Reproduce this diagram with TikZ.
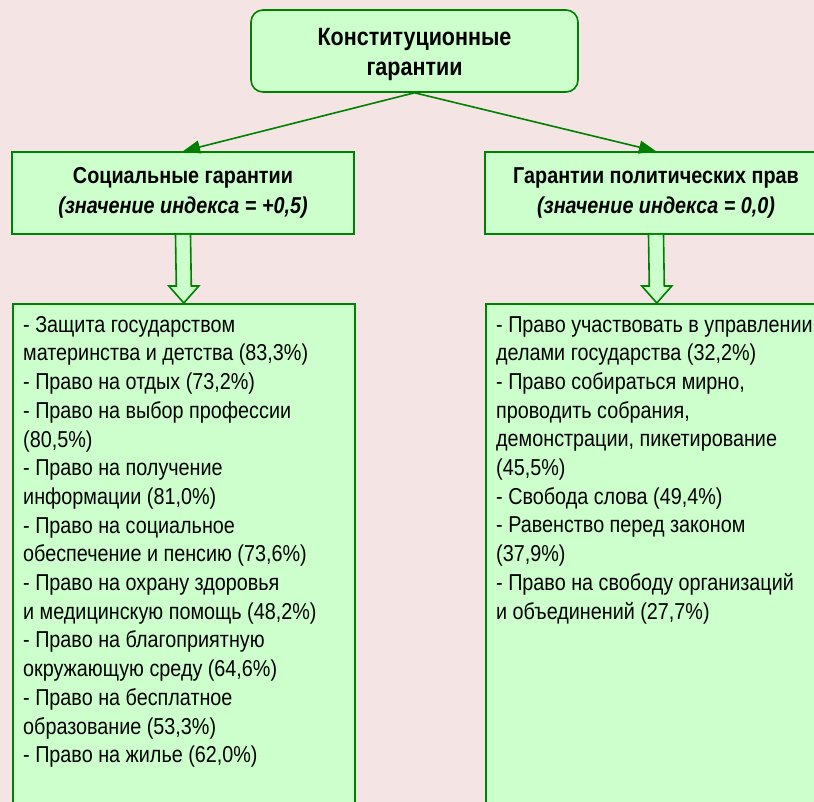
\documentclass[tikz,border=0pt]{standalone}
\usepackage{fontspec}
\setmainfont[FakeStretch=0.86]{Liberation Sans}
\usetikzlibrary{calc,arrows.meta}
\definecolor{bgpink}{HTML}{F4E4E4}
\definecolor{boxgreen}{HTML}{CCFFCC}
\definecolor{linegreen}{HTML}{008000}

\begin{document}
\begin{tikzpicture}[x=1pt,y=-1pt,
		box/.style={draw=linegreen, fill=boxgreen, line width=1.6pt, inner sep=0pt},
		headtext/.style={align=center, font=\fontsize{23}{30}\selectfont\bfseries},
		listtext/.style={align=left, inner sep=0pt, font=\fontsize{23}{28.7}\selectfont},
		link/.style={draw=linegreen, line width=1.6pt, -{Triangle[length=17pt,width=13pt]}},
		hollow/.style={draw=linegreen, fill=boxgreen, line width=1.6pt, line join=miter}]
		\useasboundingbox (0,0) rectangle (814,802);
		\clip (0,0) rectangle (814,802);
		\fill [bgpink] (0,0) rectangle (814,802);
		% top
		\node [box, headtext, font=\fontsize{25}{30}\selectfont\bfseries, rounded corners=12pt, minimum width=327pt, minimum height=82pt] (konst) at (414.5,51) {\rule{0pt}{25pt}Конституционные\\гарантии};
		% two headings
		\node [box, headtext, minimum width=342pt, minimum height=82pt] (soc) at (183,193) {Социальные гарантии\\\textit{(значение индекса = +0,5)}};
		\node [box, headtext, minimum width=342pt, minimum height=82pt] (pol) at (656,193) {Гарантии политических прав\\\textit{(значение индекса = 0,0)}};
		% lists
		\node [box, anchor=north west, minimum width=342pt, minimum height=530pt] (socl) at (12,303) {};
		\node [box, anchor=north west, minimum width=342pt, minimum height=530pt] (poll) at (485,303) {};
		\node [listtext, anchor=north west] (socltxt) at ($(socl.north west)+(11,13)$) {- Защита государством\\материнства и детства (83,3\%)\\- Право на отдых (73,2\%)\\- Право на выбор профессии\\(80,5\%)\\- Право на получение\\информации (81,0\%)\\- Право на социальное\\обеспечение и пенсию (73,6\%)\\- Право на охрану здоровья\\и медицинскую помощь (48,2\%)\\- Право на благоприятную\\окружающую среду (64,6\%)\\- Право на бесплатное\\образование (53,3\%)\\- Право на жилье (62,0\%)};
		\node [listtext, anchor=north west] (polltxt) at ($(poll.north west)+(11,13)$) {- Право участвовать в управлении\\делами государства (32,2\%)\\- Право собираться мирно,\\проводить собрания,\\демонстрации, пикетирование\\(45,5\%)\\- Свобода слова (49,4\%)\\- Равенство перед законом\\(37,9\%)\\- Право на свободу организаций\\и объединений (27,7\%)};
		% arrows
		\draw [link] (konst.south) -- (soc.north);
		\draw [link] (konst.south) -- (pol.north);
		\draw [hollow] ($(soc.south)+(-7.5,0)$) -- ($(socl.north)+(-7.5,-17)$) -- ($(socl.north)+(-15,-17)$) -- (socl.north) -- ($(socl.north)+(15,-17)$) -- ($(socl.north)+(7.5,-17)$) -- ($(soc.south)+(7.5,0)$);
		\draw [hollow] ($(pol.south)+(-7.5,0)$) -- ($(poll.north)+(-7.5,-17)$) -- ($(poll.north)+(-15,-17)$) -- (poll.north) -- ($(poll.north)+(15,-17)$) -- ($(poll.north)+(7.5,-17)$) -- ($(pol.south)+(7.5,0)$);
\end{tikzpicture}
\end{document}
